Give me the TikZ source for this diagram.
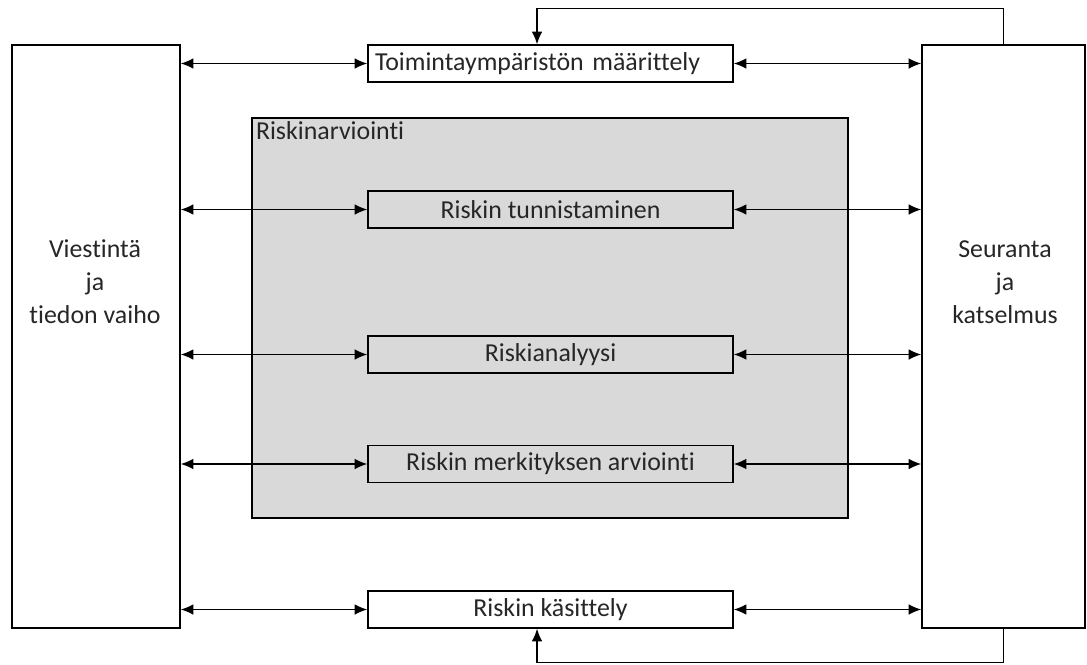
\documentclass[tikz,border=0pt]{standalone}
\usepackage{fontspec}
\setmainfont{Carlito}[Ligatures=NoCommon]
\usetikzlibrary{arrows.meta}
\definecolor{txtgray}{HTML}{262626}
\definecolor{areagray}{HTML}{D9D9D9}

\begin{document}
\begin{tikzpicture}[x=0.75pt,y=-0.75pt,
		font=\fontsize{19.4}{24.75}\selectfont,text=txtgray,
		line width=1.05pt,>={Latex[length=9.5pt,width=8pt]},
		side/.style={draw,minimum height=437.25pt,align=center},
		step box/.style={draw,minimum width=273.75pt,minimum height=27.75pt,inner sep=0pt},
		link/.style={<->}]
		\useasboundingbox (0,0) rectangle (1087,664);
		% side boxes
		\node[side,minimum width=126pt](viest) at (96,336.5){};
		\node[side,minimum width=122.25pt](seur) at (1003.5,336.5){};
		\node[align=center] at (95,282){Viestintä\\ja\\tiedon vaiho};
		\node[align=center] at (1005,282){Seuranta\\ja\\katselmus};
		% assessment area
		\node[draw,fill=areagray,minimum width=447pt,minimum height=300pt](arv) at (550,318){};
		\node[anchor=north west,inner sep=3pt](arvlbl) at (arv.north west){Riskinarviointi};
		% steps
		\node[step box,fill=white,inner xsep=5.25pt,text width=263.25pt,align=left](toim) at (550.5,63.5){Toimintaympäristön määrittely};
		\node[step box,fill=areagray](tunn) at (550.5,209.5){Riskin tunnistaminen};
		\node[step box,fill=areagray](anal) at (550.5,354.5){Riskianalyysi};
		\node[step box,fill=areagray](merk) at (550.5,464){Riskin merkityksen arviointi};
		\node[step box,fill=white](kas) at (550.5,609.5){Riskin käsittely};
		% links
		\foreach \s in {toim,tunn,anal,merk,kas}{
			\draw[link] (viest.east |- \s.west) -- (\s.west);
			\draw[link] (\s.east) -- (seur.west |- \s.east);
		}
		% feedback
		\draw[->] (seur.north) -- ++(0,-36) -| ([xshift=-10.1pt]toim.north);
		\draw[->] (seur.south) -- ++(0,34) -| ([xshift=-10.1pt]kas.south);
	\end{tikzpicture}
\end{document}
